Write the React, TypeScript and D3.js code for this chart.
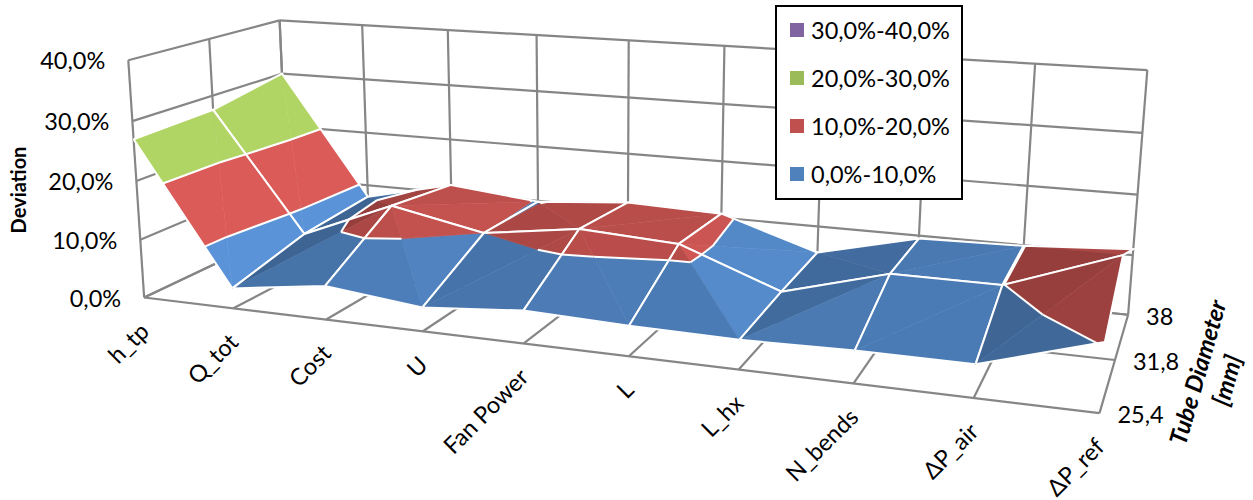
import React, { useEffect, useRef } from 'react';
import * as d3 from 'd3';

const categories = ['h_tp', 'Q_tot', 'Cost', 'U', 'Fan Power', 'L', 'L_hx', 'N_bends', 'ΔP_air', 'ΔP_ref'];
const diameters = ['25,4', '31,8', '38'];

// deviation in %, one list per tube diameter
const dev254 = [27, 3.4, 5.6, 3.9, 5.3, 4.8, 4.6, 5, 5, 10.3];
const dev318 = [27.5, 6.6, 13.2, 10, 12.3, 11.4, 5.2, 9.9, 9.9, 16.3];
const dev38 = [30, 7.8, 11.5, 9.85, 11.2, 10.7, 5.4, 9.5, 9.9, 11];
const rows = [dev254, dev318, dev38];

const yTicks = [0, 10, 20, 30, 40];
const bands = [
  { lo: 0, hi: 10, color: '#4F81BD', label: '0,0%-10,0%' },
  { lo: 10, hi: 20, color: '#C0504D', label: '10,0%-20,0%' },
  { lo: 20, hi: 30, color: '#9BBB59', label: '20,0%-30,0%' },
  { lo: 30, hi: 40, color: '#8064A2', label: '30,0%-40,0%' },
];
const legendOrder = [3, 2, 1, 0];

const WIDTH = 1253;
const HEIGHT = 500;
const FONT = 'Lato, "Open Sans", sans-serif';
const GRID = '#868686';

// where seven corners of the unit box land in the picture, used to calibrate the camera
const calibration: [number, number, number, number, number][] = [
  [0, 0, 0, 145, 296],
  [1, 0, 0, 1100, 413],
  [0, 0, 1, 288, 230],
  [1, 0, 1, 1128, 315],
  [0, 1, 0, 127, 62],
  [0, 1, 1, 281, 19],
  [1, 1, 1, 1147, 70],
];

// least squares fit of a 3x4 projection (last term fixed to 1)
function solveCamera(pts: typeof calibration) {
  const A: number[][] = [];
  const b: number[] = [];
  pts.forEach(([X, Y, Z, px, py]) => {
    const u = px / 1000, v = py / 1000;
    A.push([X, Y, Z, 1, 0, 0, 0, 0, -u * X, -u * Y, -u * Z]); b.push(u);
    A.push([0, 0, 0, 0, X, Y, Z, 1, -v * X, -v * Y, -v * Z]); b.push(v);
  });
  const n = 11;
  const M = d3.range(n).map(r => {
    const row = d3.range(n).map(c => d3.sum(A, a => a[r] * a[c]));
    row.push(d3.sum(A, (a, k) => a[r] * b[k]));
    return row;
  });
  for (let c = 0; c < n; c++) {
    let piv = c;
    for (let r = c + 1; r < n; r++) if (Math.abs(M[r][c]) > Math.abs(M[piv][c])) piv = r;
    [M[c], M[piv]] = [M[piv], M[c]];
    for (let r = 0; r < n; r++) {
      if (r === c) continue;
      const f = M[r][c] / M[c][c];
      for (let k = c; k <= n; k++) M[r][k] -= f * M[c][k];
    }
  }
  return M.map((row, i) => row[n] / row[i]);
}

const cam = solveCamera(calibration);
const wOf = (X: number, Y: number, Z: number) => cam[8] * X + cam[9] * Y + cam[10] * Z + 1;
const project = (X: number, Y: number, Z: number): [number, number] => {
  const w = wOf(X, Y, Z);
  return [
    (1000 * (cam[0] * X + cam[1] * Y + cam[2] * Z + cam[3])) / w,
    (1000 * (cam[4] * X + cam[5] * Y + cam[6] * Z + cam[7])) / w,
  ];
};
const farness = (X: number, Y: number, Z: number) => wOf(X, Y, Z) / wOf(1, 0, 0);

const xScale = d3.scalePoint<string>().domain(categories).range([0, 1]);
const zScale = d3.scalePoint<string>().domain(diameters).range([0, 1]);
const yScale = d3.scaleLinear().domain([0, 40]).range([0, 1]);

type V = { x: number; v: number; z: number };
const toScreen = (p: V) => project(p.x, yScale(p.v), p.z);
const pathOf = d3.line<V>().x(p => toScreen(p)[0]).y(p => toScreen(p)[1]);

// keep the part of a polygon on one side of a value level
function clip(poly: V[], level: number, keepAbove: boolean) {
  const out: V[] = [];
  poly.forEach((a, i) => {
    const b = poly[(i + 1) % poly.length];
    const ina = keepAbove ? a.v >= level : a.v <= level;
    const inb = keepAbove ? b.v >= level : b.v <= level;
    if (ina) out.push(a);
    if (ina !== inb) {
      const t = (level - a.v) / (b.v - a.v);
      out.push({ x: a.x + t * (b.x - a.x), v: level, z: a.z + t * (b.z - a.z) });
    }
  });
  return out;
}

// brightness from the facet's orientation, light comes from the right and above
function shade(t: V[]) {
  const sx = 1000, sy = 240, sz = 220;
  const [a, b, c] = t.map(p => [p.x * sx, yScale(p.v) * sy, p.z * sz]);
  const u = [b[0] - a[0], b[1] - a[1], b[2] - a[2]];
  const v = [c[0] - a[0], c[1] - a[1], c[2] - a[2]];
  let n = [u[1] * v[2] - u[2] * v[1], u[2] * v[0] - u[0] * v[2], u[0] * v[1] - u[1] * v[0]];
  if (n[1] < 0) n = n.map(d => -d);
  const len = Math.hypot(n[0], n[1], n[2]);
  const dot = (n[0] * 0.7 + n[1] * 0.7 - n[2] * 0.1) / len;
  return Math.max(0.7, Math.min(1.14, 0.49 + 0.66 * dot));
}

const App: React.FC = () => {
  const svgRef = useRef<SVGSVGElement>(null);

  useEffect(() => {
    if (!svgRef.current) return;
    const svg = d3.select(svgRef.current);
    svg.selectAll('*').remove();

    const seg = (a: [number, number, number], b: [number, number, number]) => {
      const p = project(...a), q = project(...b);
      svg.append('line').attr('x1', p[0]).attr('y1', p[1]).attr('x2', q[0]).attr('y2', q[1])
        .attr('stroke', GRID).attr('stroke-width', 2.2);
    };

    // walls and floor
    yTicks.forEach(t => {
      const y = yScale(t);
      seg([0, y, 0], [0, y, 1]);
      seg([0, y, 1], [1, y, 1]);
    });
    diameters.forEach(d => {
      const z = zScale(d)!;
      seg([0, 0, z], [0, 1, z]);
      seg([0, 0, z], [1, 0, z]);
    });
    categories.forEach(c => {
      const x = xScale(c)!;
      seg([x, 0, 1], [x, 1, 1]);
      seg([x, 0, 0], [x, 0, 1]);
    });

    // surface, painted from the far cells to the near ones
    const vert = (i: number, j: number): V => ({
      x: xScale(categories[i])!, z: zScale(diameters[j])!, v: rows[j][i],
    });
    const whiteLine = (pts: V[]) => svg.append('path').attr('d', pathOf(pts))
      .attr('fill', 'none').attr('stroke', '#fff').attr('stroke-width', 2);

    for (let j = diameters.length - 2; j >= 0; j--) {
      for (let i = 0; i < categories.length - 1; i++) {
        const fl = vert(i, j), fr = vert(i + 1, j), bl = vert(i, j + 1), br = vert(i + 1, j + 1);
        const top = Math.max(fl.v, fr.v, bl.v, br.v);
        // the crease runs through the highest corner of the cell
        const tris: V[][] = top === fl.v || top === br.v
          ? [[fl, fr, br], [fl, bl, br]]
          : [[fl, fr, bl], [fr, bl, br]];
        tris.sort((a, b) => d3.mean(b, p => farness(p.x, yScale(p.v), p.z))! - d3.mean(a, p => farness(p.x, yScale(p.v), p.z))!);

        tris.forEach(t => {
          const k = shade(t);
          bands.forEach(band => {
            const poly = clip(clip(t, band.lo, true), band.hi, false);
            if (poly.length < 3) return;
            const c = d3.rgb(band.color);
            const fill = d3.rgb(Math.min(255, c.r * k), Math.min(255, c.g * k), Math.min(255, c.b * k)).formatHex();
            svg.append('path').attr('d', pathOf([...poly, poly[0]]))
              .attr('fill', fill).attr('stroke', fill).attr('stroke-width', 0.5);
          });
        });
        tris.forEach(t => {
          bands.slice(1).forEach(band => {
            const cross: V[] = [];
            t.forEach((a, n) => {
              const b = t[(n + 1) % 3];
              if ((a.v - band.lo) * (b.v - band.lo) < 0) {
                const s = (band.lo - a.v) / (b.v - a.v);
                cross.push({ x: a.x + s * (b.x - a.x), v: band.lo, z: a.z + s * (b.z - a.z) });
              }
            });
            if (cross.length === 2) whiteLine(cross);
          });
        });
        whiteLine([fl, fr, br, bl, fl]);
      }
    }

    // y axis labels
    const txt = (x: number, y: number, s: string, anchor = 'middle', size = 23.5) =>
      svg.append('text').attr('x', x).attr('y', y).text(s).attr('font-family', FONT)
        .attr('font-size', size).attr('fill', '#000').attr('text-anchor', anchor)
        .attr('dominant-baseline', 'central');

    yTicks.forEach(t => {
      const [x, y] = project(0, yScale(t), 0);
      txt(x - 23, y, `${t},0%`, 'end');
    });

    categories.forEach(c => {
      const [x, y] = project(xScale(c)!, 0, 0);
      txt(0, 0, c, 'end').attr('transform', `translate(${x},${y + 29}) rotate(-45)`);
    });

    diameters.forEach(d => {
      const [x, y] = project(1, 0, zScale(d)!);
      txt(x + 18, y + 1, d, 'start');
    });

    txt(0, 0, 'Deviation', 'middle', 20).attr('font-weight', 700)
      .attr('transform', 'translate(18,190) rotate(-90)');
    txt(0, 0, 'Tube Diameter', 'middle', 24).attr('font-weight', 700).attr('font-style', 'italic')
      .attr('transform', 'translate(1197,372) rotate(-74)');
    txt(0, 0, '[mm]', 'middle', 24).attr('font-weight', 700).attr('font-style', 'italic')
      .attr('transform', 'translate(1226,380) rotate(-74)');

    // legend
    const lg = svg.append('g').attr('transform', 'translate(776,6)');
    lg.append('rect').attr('width', 186).attr('height', 193).attr('fill', '#fff')
      .attr('stroke', '#000').attr('stroke-width', 2);
    legendOrder.forEach((b, n) => {
      const cy = 24 + n * 48;
      lg.append('rect').attr('x', 14).attr('y', cy - 7).attr('width', 14).attr('height', 14)
        .attr('fill', bands[b].color);
      lg.append('text').attr('x', 35).attr('y', cy).attr('dominant-baseline', 'central')
        .attr('font-family', FONT).attr('font-size', 23.5).text(bands[b].label);
    });
  }, []);

  return (
    <svg ref={svgRef} width={WIDTH} height={HEIGHT}
      style={{ position: 'fixed', left: 0, top: 0, background: '#fff' }} />
  );
};

export default App;
